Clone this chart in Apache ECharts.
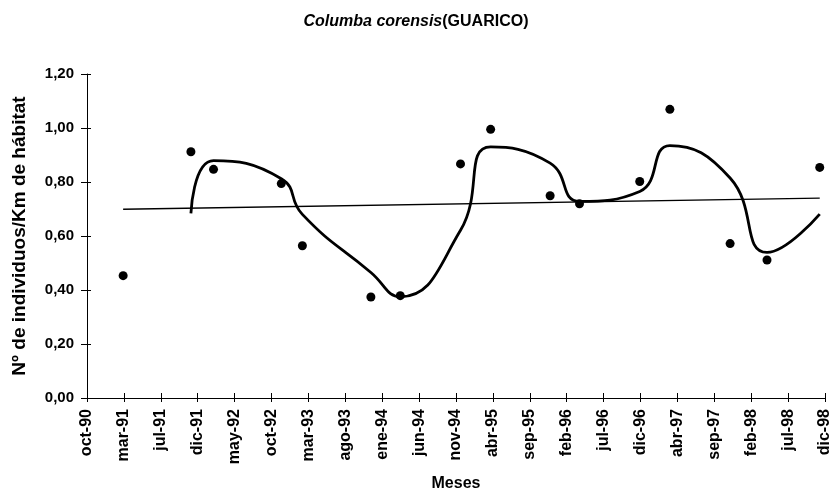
<!DOCTYPE html>
<html>
<head>
<meta charset="utf-8">
<script src="https://cdn.jsdelivr.net/npm/echarts@6/dist/echarts.min.js"></script>
<style>html,body{margin:0;padding:0;background:#fff}#c{width:832px;height:493px}</style>
</head>
<body>
<div id="c"></div>
<script>
// Tick labels of the month axis (one every 4.9 months from oct-90)
const tickLabels = ['oct-90','mar-91','jul-91','dic-91','may-92','oct-92','mar-93','ago-93','ene-94','jun-94','nov-94','abr-95','sep-95','feb-96','jul-96','dic-96','abr-97','sep-97','feb-98','jul-98','dic-98'];
// Observations: months since oct-90 and density
const monthX = [4.8,13.8,16.8,25.8,28.6,37.7,41.6,49.6,53.6,61.5,65.4,73.4,77.4,85.4,90.3,97.3];
const density = [0.453,0.912,0.847,0.794,0.564,0.374,0.379,0.867,0.995,0.749,0.719,0.802,1.069,0.572,0.511,0.854];
const curveX = [13.8,16.8,25.8,28.6,37.7,41.6,49.6,53.6,61.5,65.4,73.4,77.4,85.4,90.3,97.3];
const curveY = [0.684,0.879,0.812,0.68,0.465,0.375,0.621,0.93,0.87,0.728,0.765,0.935,0.815,0.539,0.681];
// Linear trend end points
const trendX = [4.8,97.3];
const trendY = [0.699,0.740];

const yTicks = ['0,00','0,20','0,40','0,60','0,80','1,00','1,20'];

const font = 'Liberation Sans, Arial, sans-serif';
const chart = echarts.init(document.getElementById('c'));
const xBase = {type:'value', min:0, max:98, interval:4.9, splitLine:{show:false}, position:'bottom'};
const yBase = {type:'value', min:0, max:1.2, interval:0.2, splitLine:{show:false}, position:'left'};
chart.setOption({
  animation:false,
  title:{
    text:'{i|Columba corensis}{n|(GUARICO)}',
    left:'center', top:9,
    textStyle:{rich:{
      i:{fontFamily:font,fontWeight:'bold',fontStyle:'italic',fontSize:16,color:'#000'},
      n:{fontFamily:font,fontWeight:'bold',fontSize:16,color:'#000'}
    }}
  },
  grid:{left:87,right:7,top:74,bottom:95,outerBoundsMode:'none',containLabel:false},
  xAxis:[
    Object.assign({}, xBase, {
      name:'Meses', nameLocation:'middle', nameGap:78,
      nameTextStyle:{fontFamily:font,fontWeight:'bold',fontSize:16,color:'#000'},
      axisLine:{show:true,lineStyle:{color:'#000',width:1}},
      axisTick:{show:true,inside:false,length:4,lineStyle:{color:'#000'}},
      axisLabel:{rotate:90,margin:11,fontFamily:font,fontWeight:'bold',fontSize:16,color:'#000',
        formatter:v=>tickLabels[Math.round(v/4.9)]}
    }),
    Object.assign({}, xBase, {
      axisLine:{show:false},
      axisTick:{show:true,inside:true,length:5,lineStyle:{color:'#000'}},
      axisLabel:{show:false}
    })
  ],
  yAxis:[
    Object.assign({}, yBase, {
      name:'Nº de individuos/Km de hábitat', nameLocation:'middle', nameGap:58, nameRotate:90,
      nameTextStyle:{fontFamily:font,fontWeight:'bold',fontSize:19,color:'#000'},
      axisLine:{show:true,lineStyle:{color:'#000',width:1}},
      axisTick:{show:true,inside:false,length:6,lineStyle:{color:'#000'}},
      axisLabel:{margin:13,fontFamily:font,fontWeight:'bold',fontSize:15,color:'#000',
        formatter:v=>yTicks[Math.round(v/0.2)]}
    }),
    Object.assign({}, yBase, {
      axisLine:{show:false},
      axisTick:{show:true,inside:true,length:4,lineStyle:{color:'#000'}},
      axisLabel:{show:false}
    })
  ],
  series:[
    {type:'line', data:trendX.map((x,i)=>[x,trendY[i]]), symbol:'none',
      lineStyle:{color:'#000',width:1.3}, z:2},
    {type:'line', data:curveX.map((x,i)=>[x,curveY[i]]), symbol:'none', smooth:0.5,
      lineStyle:{color:'#000',width:2.8}, z:3},
    {type:'scatter', data:monthX.map((x,i)=>[x,density[i]]), symbol:'circle', symbolSize:9,
      itemStyle:{color:'#000',opacity:1}, z:4}
  ]
});
</script>
</body>
</html>
